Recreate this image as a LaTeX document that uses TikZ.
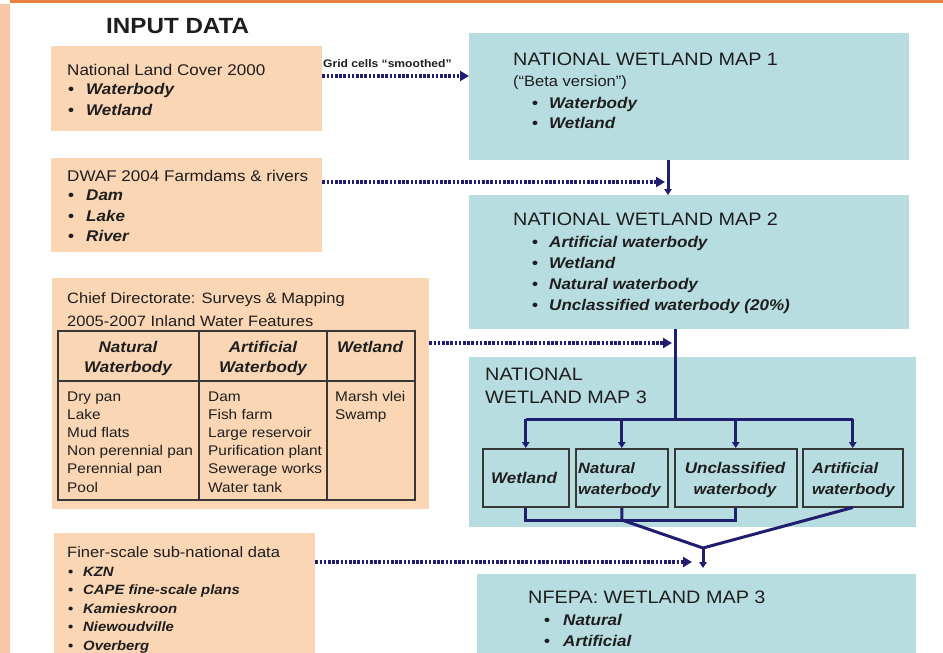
\documentclass[tikz,border=0pt]{standalone}
\usepackage{fontspec}
\setmainfont{Liberation Sans}[FakeStretch=1.1]
\usetikzlibrary{arrows.meta}
\definecolor{peachc}{RGB}{250,214,180}
\definecolor{tealc}{RGB}{184,221,225}
\definecolor{navyc}{RGB}{32,30,110}
\definecolor{txtc}{RGB}{30,30,30}
\definecolor{stripc}{RGB}{246,200,168}
\definecolor{topc}{RGB}{232,128,64}
\definecolor{gridc}{RGB}{55,55,55}
\newcommand\fsz[1]{\fontsize{#1}{#1}\selectfont}
\newcommand\blt[2]{\makebox[#1][l]{\upshape\bfseries\textbullet}{\bfseries\itshape #2}}
\tikzset{
  peachbox/.style={fill=peachc, draw=none, inner sep=0pt, anchor=north west},
  tealbox/.style={fill=tealc, draw=none, inner sep=0pt, anchor=north west},
  subbox/.style={fill=tealc, draw=gridc, line width=1.5pt, inner sep=0pt, anchor=north west},
  txt/.style={anchor=base west, inner sep=0pt, text=txtc},
  ctxt/.style={anchor=base, inner sep=0pt, text=txtc},
  dotarrow/.style={navyc, line width=3.3pt, dash pattern=on 2.6pt off 1.6pt,
     -{Triangle[length=9pt,width=10pt]}},
  flow/.style={navyc, line width=3pt},
  flowarrow/.style={navyc, line width=3pt, -{Triangle[length=6pt,width=7.5pt]}},
  gridline/.style={gridc, line width=1.7pt}
}
\begin{document}
\begin{tikzpicture}[x=1pt,y=-1pt]
\path[use as bounding box] (0,0) rectangle (943,653);
% frame decoration
\fill[stripc] (0,4) rectangle (10,653);
\fill[topc] (10,0) rectangle (943,3);

% title
\node[txt, font=\fsz{22}\bfseries] (title) at (106,33) {INPUT DATA};

% ---------- input boxes ----------
\node[peachbox, minimum width=271pt, minimum height=85pt] (b1) at (51,46) {};
\node[txt, font=\fsz{15.5}] (b1t) at (67,75) {National Land Cover 2000};
\node[txt, font=\fsz{15.5}] (b1a) at (68,94) {\blt{18pt}{Waterbody}};
\node[txt, font=\fsz{15.5}] (b1b) at (68,115) {\blt{18pt}{Wetland}};

\node[peachbox, minimum width=271pt, minimum height=94pt] (b2) at (51,158) {};
\node[txt, font=\fsz{15.5}] (b2t) at (67,181) {DWAF 2004 Farmdams \& rivers};
\node[txt, font=\fsz{15.5}] (b2a) at (68,200) {\blt{18pt}{Dam}};
\node[txt, font=\fsz{15.5}] (b2b) at (68,221) {\blt{18pt}{Lake}};
\node[txt, font=\fsz{15.5}] (b2c) at (68,241) {\blt{18pt}{River}};

\node[peachbox, minimum width=377pt, minimum height=231pt] (b3) at (52,278) {};
\node[txt, font=\fsz{15}] (b3t1) at (67,303) {Chief Directorate: Surveys \& Mapping};
\node[txt, font=\fsz{15}] (b3t2) at (67,326) {2005-2007 Inland Water Features};
% table
\node[draw=gridc, line width=1.7pt, inner sep=0pt, anchor=north west,
      minimum width=357pt, minimum height=169pt] (tb) at (57,330) {};
\draw[gridline] (57,381) -- (414,381);
\draw[gridline] (199,330) -- (199,499);
\draw[gridline] (327,330) -- (327,499);
\node[ctxt, font=\fsz{15.5}\bfseries\itshape] (h1a) at (128,352) {Natural};
\node[ctxt, font=\fsz{15.5}\bfseries\itshape] (h1b) at (128,372) {Waterbody};
\node[ctxt, font=\fsz{15.5}\bfseries\itshape] (h2a) at (263,352) {Artificial};
\node[ctxt, font=\fsz{15.5}\bfseries\itshape] (h2b) at (263,372) {Waterbody};
\node[ctxt, font=\fsz{15.5}\bfseries\itshape] (h3a) at (370,352) {Wetland};
\foreach \t [count=\i] in {Dry pan, Lake, Mud flats, Non perennial pan, Perennial pan, Pool}
  \node[txt, font=\fsz{14}] (c1r\i) at (67,{401+18.2*(\i-1)}) {\t};
\foreach \t [count=\i] in {Dam, Fish farm, Large reservoir, Purification plant, Sewerage works, Water tank}
  \node[txt, font=\fsz{14}] (c2r\i) at (208,{401+18.2*(\i-1)}) {\t};
\foreach \t [count=\i] in {Marsh vlei, Swamp}
  \node[txt, font=\fsz{14}] (c3r\i) at (335,{401+18.2*(\i-1)}) {\t};

\node[peachbox, minimum width=261pt, minimum height=120pt] (b4) at (54,533) {};
\node[txt, font=\fsz{15}] (b4t) at (67,557) {Finer-scale sub-national data};
\node[txt, font=\fsz{13.5}] (b4a) at (68,576) {\blt{15pt}{KZN}};
\node[txt, font=\fsz{13.5}] (b4b) at (68,594.5) {\blt{15pt}{CAPE fine-scale plans}};
\node[txt, font=\fsz{13.5}] (b4c) at (68,613) {\blt{15pt}{Kamieskroon}};
\node[txt, font=\fsz{13.5}] (b4d) at (68,631.5) {\blt{15pt}{Niewoudville}};
\node[txt, font=\fsz{13.5}] (b4e) at (68,650) {\blt{15pt}{Overberg}};

% ---------- map boxes ----------
\node[tealbox, minimum width=440pt, minimum height=127pt] (m1) at (469,33) {};
\node[txt, font=\fsz{18}] (m1t) at (513,65) {NATIONAL WETLAND MAP 1};
\node[txt, font=\fsz{15}] (m1s) at (513,86) {(“Beta version”)};
\node[txt, font=\fsz{15.5}] (m1a) at (532,108) {\blt{17pt}{Waterbody}};
\node[txt, font=\fsz{15.5}] (m1b) at (532,128) {\blt{17pt}{Wetland}};

\node[tealbox, minimum width=440pt, minimum height=134pt] (m2) at (469,195) {};
\node[txt, font=\fsz{18}] (m2t) at (513,225) {NATIONAL WETLAND MAP 2};
\node[txt, font=\fsz{15.5}] (m2a) at (532,247) {\blt{17pt}{Artificial waterbody}};
\node[txt, font=\fsz{15.5}] (m2b) at (532,268) {\blt{17pt}{Wetland}};
\node[txt, font=\fsz{15.5}] (m2c) at (532,289) {\blt{17pt}{Natural waterbody}};
\node[txt, font=\fsz{15.5}] (m2d) at (532,310) {\blt{17pt}{Unclassified waterbody (20\%)}};

\node[tealbox, minimum width=447pt, minimum height=170pt] (m3) at (469,357) {};
\node[txt, font=\fsz{18}] (m3t1) at (485,380) {NATIONAL};
\node[txt, font=\fsz{18}] (m3t2) at (485,403) {WETLAND MAP 3};

\node[subbox, minimum width=86pt, minimum height=58pt] (bw) at (482,448) {};
\node[ctxt, font=\fsz{15.5}\bfseries\itshape] (bwt) at (524,483) {Wetland};
\node[subbox, minimum width=92pt, minimum height=58pt] (bn) at (575,448) {};
\node[txt, font=\fsz{15}\bfseries\itshape] (bnt1) at (578,473) {Natural};
\node[txt, font=\fsz{15}\bfseries\itshape] (bnt2) at (578,494) {waterbody};
\node[subbox, minimum width=122pt, minimum height=58pt] (bu) at (674,448) {};
\node[ctxt, font=\fsz{15.5}\bfseries\itshape] (but1) at (735,473) {Unclassified};
\node[ctxt, font=\fsz{15}\bfseries\itshape] (but2) at (735,494) {waterbody};
\node[subbox, minimum width=100pt, minimum height=58pt] (ba) at (802,448) {};
\node[txt, font=\fsz{15}\bfseries\itshape] (bat1) at (812,473) {Artificial};
\node[txt, font=\fsz{15}\bfseries\itshape] (bat2) at (812,494) {waterbody};

\node[tealbox, minimum width=439pt, minimum height=79pt] (nf) at (477,574) {};
\node[txt, font=\fsz{18}] (nft) at (528,603) {NFEPA: WETLAND MAP 3};
\node[txt, font=\fsz{15.5}] (nfa) at (544,625) {\blt{19pt}{Natural}};
\node[txt, font=\fsz{15.5}] (nfb) at (544,646) {\blt{19pt}{Artificial}};

% ---------- connectors ----------
\coordinate (a1) at (469,76);
\draw[dotarrow] (b1.east |- a1) -- (a1);
\node[txt, font=\fsz{11}\bfseries] (a1lab) at (323,67) {Grid cells “smoothed”};

\coordinate (j1) at (668,160);
\draw[flowarrow] (j1) -- (j1 |- m2.north);
\coordinate (a2) at (665,182);
\draw[dotarrow] (b2.east |- a2) -- (a2);

\coordinate (j2) at (675,329);
\coordinate (j2b) at (675,419);
\draw[flow] (j2) -- (j2b);
\draw[flow] (bw.north |- j2b) -- (ba.north |- j2b);
\foreach \b in {bw,bn,bu,ba}
  \draw[flowarrow] (\b.north |- j2b) -- (\b.north);
\coordinate (a3) at (672,343);
\draw[dotarrow] (b3.east |- a3) -- (a3);

\coordinate (low) at (0,520);
\coordinate (mrg) at (703,548);
\draw[flow] (bw.south) -- (bw.south |- low) -| (bu.south);
\draw[flow, line join=round] (bn.south) -- (bn.south |- low) -- (mrg);
\draw[flow, line join=round] (ba.south) -- (mrg);
\draw[flowarrow, shorten >=6pt] (mrg) -- (mrg |- nf.north);
\coordinate (a4) at (692,562);
\draw[dotarrow] (b4.east |- a4) -- (a4);
\end{tikzpicture}
\end{document}
